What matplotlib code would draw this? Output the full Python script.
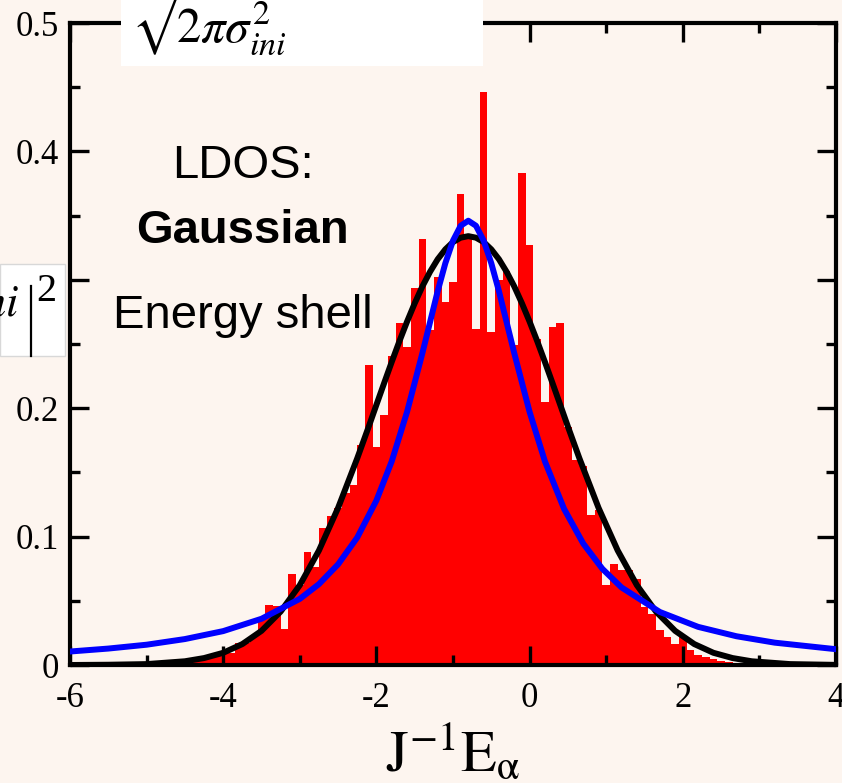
import matplotlib.pyplot as plt
from matplotlib.patches import Rectangle
from matplotlib.lines import Line2D
from matplotlib.ticker import MultipleLocator

plt.rcParams['mathtext.fontset'] = 'stix'
plt.rcParams['axes.unicode_minus'] = False

W, H = 842, 783
BG = '#fdf5ef'

# histogram: bins of width 0.1, first bin centred at -4.5
bin_first = -4.5
bin_width = 0.1
bin_heights = [0.002, 0.003, 0.005, 0.005, 0.009, 0.009, 0.009, 0.017, 0.017, 0.022,
               0.035, 0.047, 0.046, 0.028, 0.071, 0.062, 0.088, 0.076, 0.107, 0.116,
               0.122, 0.134, 0.140, 0.171, 0.234, 0.170, 0.195, 0.241, 0.266, 0.248,
               0.294, 0.332, 0.261, 0.302, 0.283, 0.298, 0.367, 0.335, 0.262, 0.446,
               0.259, 0.300, 0.307, 0.249, 0.383, 0.327, 0.254, 0.205, 0.263, 0.266,
               0.185, 0.160, 0.155, 0.117, 0.121, 0.062, 0.079, 0.074, 0.074, 0.067,
               0.045, 0.040, 0.027, 0.022, 0.016, 0.022, 0.012, 0.008, 0.006, 0.005,
               0.003, 0.002, 0.001]

# LDOS gaussian (black)
gauss_x = [-6, -5.5, -5, -4.5, -4.25, -4, -3.75, -3.5, -3.25, -3, -2.75, -2.5, -2.25,
           -2.1, -2.0, -1.9, -1.8, -1.7, -1.6, -1.5, -1.4, -1.3, -1.2, -1.1, -1.0, -0.9,
           -0.8, -0.7, -0.6, -0.5, -0.4, -0.3, -0.2, -0.1, 0.0, 0.1, 0.2, 0.3, 0.4, 0.5,
           0.65, 0.9, 1.15, 1.4, 1.65, 1.9, 2.15, 2.4, 2.65, 2.9, 3.4, 4]
gauss_y = [0.0000, 0.0002, 0.0007, 0.0029, 0.0054, 0.0095, 0.0163, 0.0266, 0.0416, 0.0622,
           0.0892, 0.1224, 0.1610, 0.1857, 0.2026, 0.2194, 0.2360, 0.2521, 0.2674, 0.2817,
           0.2948, 0.3062, 0.3160, 0.3237, 0.3294, 0.3328, 0.3340, 0.3328, 0.3294, 0.3237,
           0.3160, 0.3062, 0.2948, 0.2817, 0.2674, 0.2521, 0.2360, 0.2194, 0.2026, 0.1857,
           0.1610, 0.1224, 0.0892, 0.0622, 0.0416, 0.0266, 0.0163, 0.0095, 0.0054, 0.0029,
           0.0007, 0.0001]

# energy shell (blue)
shell_x = [-6, -5.5, -5, -4.5, -4, -3.5, -3, -2.75, -2.5, -2.25, -2, -1.8, -1.6, -1.4,
           -1.2, -1.1, -1.0, -0.9, -0.8, -0.7, -0.6, -0.5, -0.4, -0.2, 0, 0.2, 0.45, 0.7,
           0.95, 1.2, 1.7, 2.2, 2.7, 3.2, 4]
shell_y = [0.0105, 0.0128, 0.0158, 0.0202, 0.0264, 0.0360, 0.0515, 0.0630, 0.0784, 0.0993,
           0.1281, 0.1586, 0.1971, 0.2428, 0.2911, 0.3129, 0.3305, 0.3421, 0.3460, 0.3421,
           0.3305, 0.3129, 0.2911, 0.2428, 0.1971, 0.1586, 0.1216, 0.0946, 0.0749, 0.0604,
           0.0413, 0.0297, 0.0224, 0.0174, 0.0123]

x_ticks = [-6, -4, -2, 0, 2, 4]
x_ticklabels = ['-6', '-4', '-2', '0', '2', '4']
y_ticks = [0, 0.1, 0.2, 0.3, 0.4, 0.5]
y_ticklabels = ['0', '0.1', '0.2', '0.3', '0.4', '0.5']


def fx(px):
    return px / W


def fy(py):
    return 1 - py / H


fig = plt.figure(figsize=(W / 100, H / 100), dpi=100)
fig.patch.set_facecolor(BG)
ax = fig.add_axes([fx(70), fy(665), fx(836) - fx(70), fy(23) - fy(665)])
ax.set_facecolor(BG)

centers = [bin_first + i * bin_width for i in range(len(bin_heights))]
ax.bar(centers, bin_heights, width=bin_width, color='#ff0000', linewidth=0, zorder=1)
ax.plot(gauss_x, gauss_y, color='black', lw=4.3, zorder=2)
ax.plot(shell_x, shell_y, color='#0000ff', lw=4.3, zorder=3)

ax.set_xlim(-6, 4)
ax.set_ylim(0, 0.5)
ax.set_xticks(x_ticks)
ax.set_xticklabels(x_ticklabels, fontsize=25, fontfamily='Liberation Serif')
ax.set_yticks(y_ticks)
ax.set_yticklabels(y_ticklabels, fontsize=25, fontfamily='Liberation Serif')
ax.xaxis.set_minor_locator(MultipleLocator(1))
ax.yaxis.set_minor_locator(MultipleLocator(0.05))
ax.tick_params(which='both', direction='in', top=True, right=True, width=2.4)
ax.tick_params(which='major', length=14)
ax.tick_params(which='minor', length=7)
ax.tick_params(axis='x', pad=12)
ax.tick_params(axis='y', pad=8)
for s in ax.spines.values():
    s.set_linewidth(3)

# axis label
fig.text(fx(453), fy(771), r'$\mathrm{J}^{\mathrm{-1}}\mathrm{E}_{\mathrm{α}}$',
         fontsize=42, ha='center', va='baseline')

# annotations
txt = dict(family='Liberation Sans', fontsize=34, ha='center', va='baseline')
fig.text(fx(243), fy(178), 'LDOS:', **txt)
fig.text(fx(242), fy(243), 'Gaussian', fontweight='bold', **txt)
fig.text(fx(243), fy(328), 'Energy shell', **txt)

# pasted equation fragments (white boxes)
fig.add_artist(Rectangle((fx(121), fy(66)), fx(483) - fx(121), fy(0) - fy(66),
                         transform=fig.transFigure, facecolor='white', edgecolor='none', zorder=5))
fig.text(fx(131), fy(42), r'$√2\pi\sigma^{2}_{ini}$', fontsize=35, ha='left', va='baseline', zorder=6)

fig.add_artist(Rectangle((0, fy(356)), fx(65), fy(264) - fy(356),
                         transform=fig.transFigure, facecolor='white', edgecolor='#d8d8d8',
                         lw=1, zorder=5))
fig.text(fx(19), fy(315), r'$ni$', fontsize=32, ha='right', va='baseline', zorder=6)
fig.add_artist(Line2D([fx(31), fx(31)], [fy(286), fy(356)], transform=fig.transFigure,
                      color='black', lw=1.6, zorder=6))
fig.text(fx(36), fy(301), '2', family='Liberation Serif', fontsize=29, ha='left',
         va='baseline', zorder=6)

fig.savefig('out.png', dpi=100, facecolor=BG)
